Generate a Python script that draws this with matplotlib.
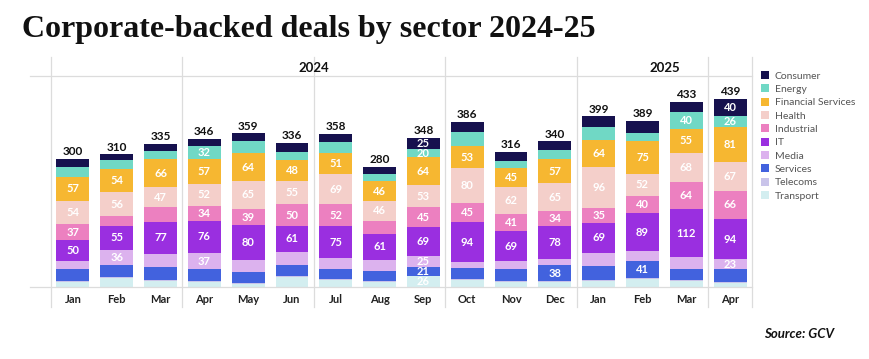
import matplotlib.pyplot as plt
import matplotlib as mpl
from matplotlib.patches import Patch
from matplotlib.lines import Line2D
import numpy as np

mpl.rcParams.update({
    "font.family": ["Lato", "DejaVu Sans"],
})

months = ["Jan", "Feb", "Mar", "Apr", "May", "Jun", "Jul", "Aug", "Sep",
          "Oct", "Nov", "Dec", "Jan", "Feb", "Mar", "Apr"]
years = ["2024", "2025"]
year_months = [12, 4]

# values per sector, stacked bottom (transport) to top (consumer)
transport = [12, 21, 15, 11, 7, 23, 16, 12, 26, 16, 11, 11, 15, 18, 15, 10]
telecoms = [2, 2, 2, 2, 2, 2, 2, 2, 0, 2, 2, 2, 2, 2, 2, 2]
services = [27, 28, 29, 29, 27, 26, 24, 24, 21, 26, 29, 38, 32, 41, 26, 30]
media = [19, 36, 30, 37, 28, 31, 25, 25, 25, 14, 19, 14, 31, 23, 27, 23]
it = [50, 55, 77, 76, 80, 61, 75, 61, 69, 94, 69, 78, 69, 89, 112, 94]
industrial = [37, 23, 33, 34, 39, 50, 52, 31, 45, 45, 41, 34, 35, 40, 64, 66]
health = [54, 56, 47, 52, 65, 55, 69, 46, 53, 80, 62, 65, 96, 52, 68, 67]
financial = [57, 54, 66, 57, 64, 48, 51, 46, 64, 53, 45, 57, 64, 75, 55, 81]
energy = [23, 22, 19, 32, 28, 20, 25, 18, 20, 31, 16, 22, 29, 19, 40, 26]
consumer = [19, 13, 17, 16, 19, 20, 19, 15, 25, 25, 22, 19, 26, 30, 24, 40]

# which bars carry a value label inside the segment
labelled = {
    "Consumer": [8, 15],
    "Energy": [3, 8, 14, 15],
    "Financial Services": list(range(16)),
    "Health": list(range(16)),
    "Industrial": [0, 3, 4, 5, 6, 8, 9, 10, 11, 12, 13, 14, 15],
    "IT": list(range(16)),
    "Media": [1, 3, 8, 15],
    "Services": [8, 11, 13],
    "Telecoms": [],
    "Transport": [8],
}

series = [
    ("Transport", transport, "#d3eef0"),
    ("Telecoms", telecoms, "#c9c4ea"),
    ("Services", services, "#4262de"),
    ("Media", media, "#dcb2ee"),
    ("IT", it, "#9a2fe0"),
    ("Industrial", industrial, "#ec80c0"),
    ("Health", health, "#f4cfca"),
    ("Financial Services", financial, "#f6b731"),
    ("Energy", energy, "#70d8c5"),
    ("Consumer", consumer, "#16114e"),
]

W, H = 870, 359
fig = plt.figure(figsize=(W / 100, H / 100), dpi=100)
ax = fig.add_axes([51 / W, (H - 287) / H, (752 - 51) / W, (287 - 76) / H])

x = np.arange(len(months))
bottom = np.zeros(len(months))
for name, vals, col in series:
    vals = np.array(vals)
    ax.bar(x, vals, bottom=bottom, width=0.75, color=col, linewidth=0)
    for i in labelled[name]:
        ax.text(x[i], bottom[i] + vals[i] / 2, str(vals[i]), ha="center",
                va="center", color="white", fontsize=8, fontweight="bold")
    bottom += vals

for i, t in enumerate(bottom):
    ax.text(x[i], t + 4, str(int(t)), ha="center", va="bottom",
            fontsize=8.5, fontweight="bold", color="#111111")

ax.set_xlim(-0.5, len(months) - 0.5)
ax.set_ylim(0, 493)
for s in ax.spines.values():
    s.set_visible(False)
ax.set_yticks([])
ax.set_xticks(x)
ax.set_xticklabels(months, fontsize=8, fontweight="bold", color="#222222")
ax.tick_params(axis="x", length=0, pad=5)

grid = "#dcdcdc"
# quarter separators
for q in np.arange(-0.5, len(months), 3):
    ax.axvline(q, ymin=-0.095, ymax=1.09, color=grid, lw=0.9, clip_on=False)
ax.axvline(len(months) - 0.5, ymin=-0.095, ymax=1.09, color=grid, lw=0.9,
           clip_on=False)
# baseline and header line
for yy in (0, 1):
    ax.add_line(Line2D([-0.03, 1], [yy, yy], transform=ax.transAxes,
                       color=grid, lw=0.9, clip_on=False))

# year headers
start = -0.5
for yr, n in zip(years, year_months):
    ax.text(start + n / 2, 1.04, yr, transform=ax.get_xaxis_transform(),
            ha="center", va="center", fontsize=9.5, fontweight="bold",
            color="#111111")
    start += n

handles = [Patch(facecolor=c, edgecolor="none") for _, _, c in series[::-1]]
labels = [n for n, _, _ in series[::-1]]
fig.legend(handles, labels, loc="upper left",
           bbox_to_anchor=(761 / W, (H - 71) / H), frameon=False,
           fontsize=7.5, handlelength=0.8, handleheight=0.8,
           handletextpad=0.5, labelspacing=0.36, labelcolor="#555555",
           borderaxespad=0, borderpad=0)

fig.text(22 / W, (H - 29) / H, "Corporate-backed deals by sector 2024-25",
         family=["Liberation Serif", "DejaVu Serif"], fontweight="bold",
         fontsize=23, va="center", ha="left", color="#111111")
fig.text(834 / W, (H - 334) / H, "Source: GCV", ha="right", va="center",
         fontsize=9.5, fontweight="bold", style="italic", color="#111111")

fig.savefig("out.png", dpi=100)
